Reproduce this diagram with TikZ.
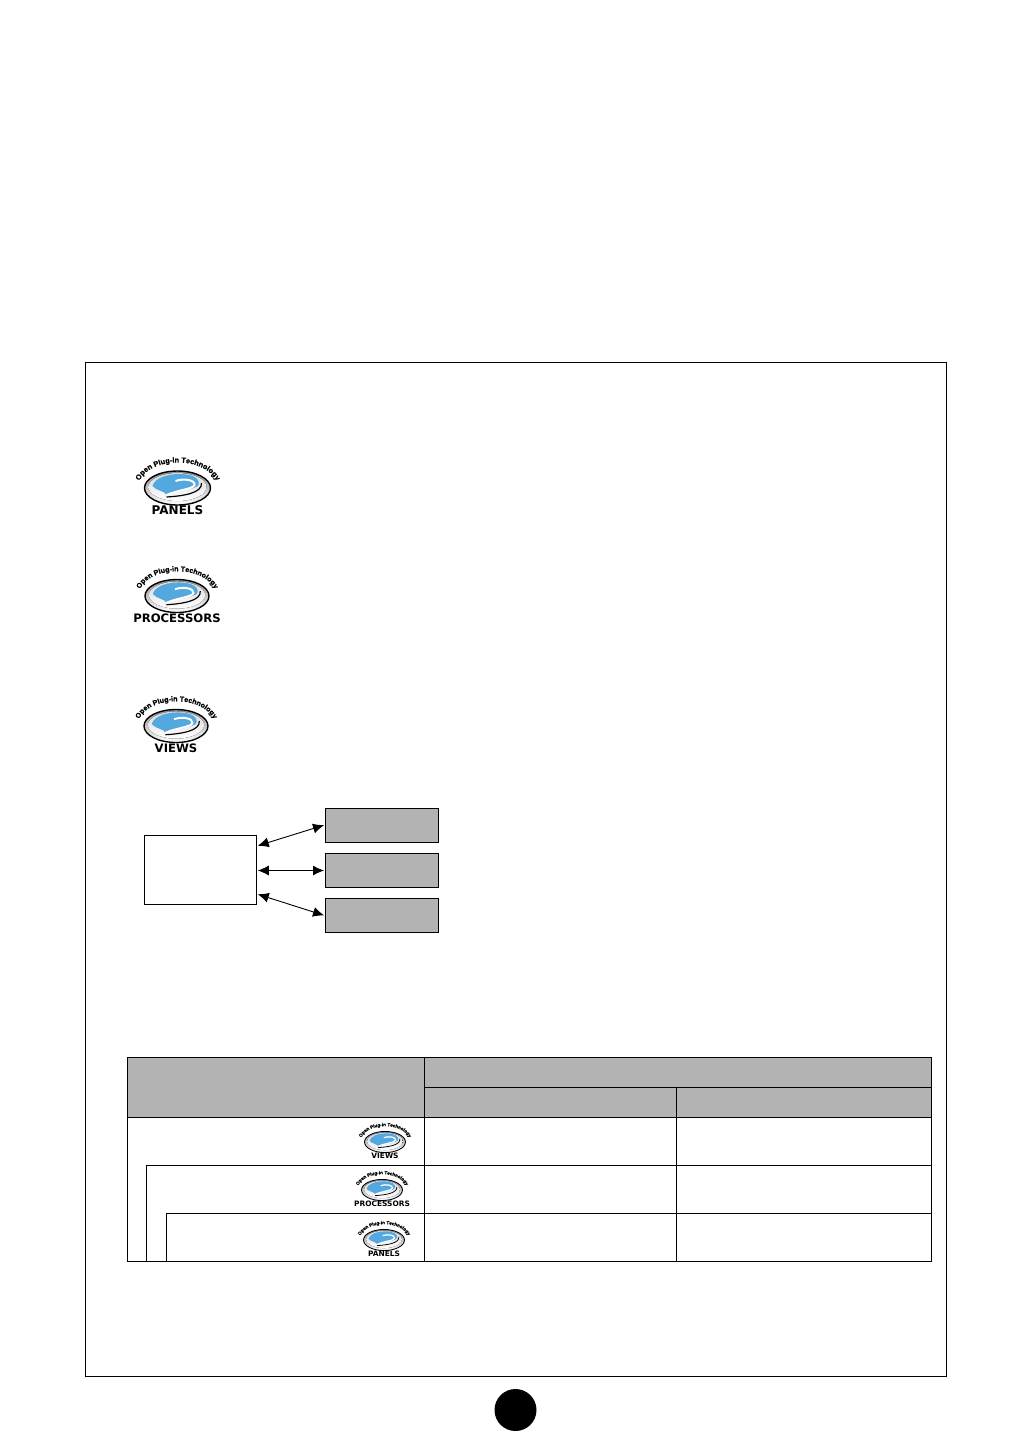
\documentclass[tikz,border=0pt]{standalone}
\usepackage{fontspec}
\setmainfont{DejaVu Sans}
\newfontfamily\arcfont[BoldFeatures={FakeBold=0.6}]{Liberation Sans}
\usetikzlibrary{arrows.meta, decorations.text}
\definecolor{tablegray}{RGB}{179, 179, 179}
\definecolor{logoblue}{RGB}{84, 168, 224}
\tikzset{
    graybox/.style={draw, fill=tablegray, line width=1pt, minimum width=113.5pt, minimum height=34pt, inner sep=0pt},
    whitebox/.style={draw, fill=white, line width=1pt, minimum width=112.5pt, minimum height=69pt, inner sep=0pt},
    biarrow/.style={{Latex[length=11pt,width=10pt]}-{Latex[length=11pt,width=10pt]}, line width=0.9pt, shorten <=0.5pt, shorten >=0.5pt}
}
\newcommand{\oplogo}[5]{
    \begin{scope}[shift={(#2,#3)}, scale=#4]
        \pgfmathsetmacro{\arcsize}{7.4*#4}
        \pgfmathsetmacro{\namesize}{12*#4}
        \draw[line width=1.4pt*#4, top color=gray!90, bottom color=white] (0,0) ellipse (33 and 17);
        \fill[top color=gray!30, bottom color=white] (0,-1) ellipse (29 and 14);
        \fill[logoblue] (-25,-2) .. controls (-23,-10) and (-10,-14) .. (2,-14)
            .. controls (14,-14) and (23,-10) .. (21,-3)
            .. controls (19,1) and (4,2) .. (-11,7)
            .. controls (-12,3) and (-21,3) .. (-25,-2) -- cycle;
        \draw[line width=2pt*#4, white] (-2,-7) .. controls (6,-10) and (18,-8) .. (17,-3) .. controls (16,1) and (0,2) .. (-11,7);
        \draw[line width=1.2pt*#4] (-11,9) .. controls (6,8) and (25,5) .. (24,-5);
        \path[decorate, decoration={text along path, text align=center,
            text={|\fontsize{\arcsize}{\arcsize}\arcfont\bfseries\selectfont|Open Plug-in Technology}}]
            (-40,0) .. controls (-36,-34) and (36,-34) .. (41,0);
        \node[font=\fontsize{\namesize}{\namesize}\bfseries\selectfont, inner sep=0pt] (#1) at (0,22.5) {#5};
    \end{scope}
}
\begin{document}
\begin{tikzpicture}[x=1pt, y=-1pt]
    \useasboundingbox (0,0) rectangle (1032,1456);
    % page frame and page number disc
    \draw[line width=1pt] (85,362.5) rectangle (946.5,1376.5);
    \fill (515.5,1410) circle (21);

    % logos beside the text
    \oplogo{panelslogo}{177.5}{488}{1}{PANELS}
    \oplogo{processorslogo}{177}{596}{0.97}{PROCESSORS}
    \oplogo{viewslogo}{176}{726}{0.97}{VIEWS}

    % hierarchy diagram
    \node[whitebox] (host) at (200.5,870) {};
    \node[graybox] (boxa) at (381.75,825) {};
    \node[graybox] (boxb) at (381.75,870.5) {};
    \node[graybox] (boxc) at (381.75,915.5) {};
    \draw[biarrow] (host.23) -- (boxa.west);
    \draw[biarrow] (host.east |- boxb.west) -- (boxb.west);
    \draw[biarrow] (host.-23) -- (boxc.west);

    % table
    \fill[tablegray] (127,1057) rectangle (931.5,1117.5);
    \draw[line width=1pt] (127,1057) rectangle (931.5,1261.5);
    \draw[line width=1pt] (424.5,1057) -- (424.5,1261.5);
    \draw[line width=1pt] (676,1087) -- (676,1261.5);
    \draw[line width=1pt] (424.5,1087) -- (931.5,1087);
    \draw[line width=1pt] (127,1117.5) -- (931.5,1117.5);
    \draw[line width=1pt] (146.5,1261.5) -- (146.5,1165.5) -- (931.5,1165.5);
    \draw[line width=1pt] (166,1261.5) -- (166,1213.5) -- (931.5,1213.5);

    \oplogo{viewsrow}{385}{1142}{0.62}{VIEWS}
    \oplogo{processorsrow}{382}{1190}{0.62}{PROCESSORS}
    \oplogo{panelsrow}{384}{1240}{0.62}{PANELS}
\end{tikzpicture}
\end{document}
